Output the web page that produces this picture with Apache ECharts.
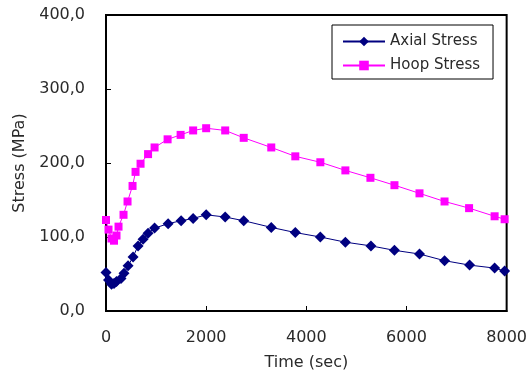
<!DOCTYPE html>
<html>
<head>
<meta charset="utf-8">
<script src="https://cdn.jsdelivr.net/npm/echarts@6/dist/echarts.min.js"></script>
<style>html,body{margin:0;padding:0;background:#fff;}#c{width:530px;height:381px;}</style>
</head>
<body>
<div id="c"></div>
<script>
var axialTime = [0, 50, 110, 160, 210, 300, 360, 440, 540, 640, 740, 840, 970, 1240, 1500, 1740, 2000, 2380, 2750, 3300, 3780, 4280, 4780, 5290, 5760, 6260, 6760, 7260, 7760, 7960];
var axialStress = [52, 42, 36, 37, 40, 44, 51, 61, 73, 88, 97, 105, 112, 118, 122, 125, 130, 127, 122, 113, 106, 100, 93, 88, 82, 77, 68, 62, 58, 54];
var hoopTime = [0, 50, 110, 160, 210, 250, 350, 430, 530, 590, 690, 840, 970, 1230, 1490, 1740, 2000, 2380, 2750, 3300, 3780, 4280, 4780, 5280, 5760, 6260, 6760, 7250, 7760, 7960];
var hoopStress = [123, 110, 98, 95, 102, 114, 130, 148, 169, 188, 199, 212, 221, 232, 238, 244, 247, 244, 234, 221, 209, 201, 190, 180, 170, 159, 148, 139, 128, 124];
var seriesNames = ['Axial Stress', 'Hoop Stress'];
var xTitle = 'Time (sec)';
var yTitle = 'Stress (MPa)';

function pairs(xs, ys) { return xs.map(function (x, i) { return [x, ys[i]]; }); }
var FONT = 'DejaVu Sans';
var TXT = '#2a2a2a';
var chart = echarts.init(document.getElementById('c'), null, { renderer: 'canvas' });
chart.setOption({
  backgroundColor: '#fff',
  animation: false,
  textStyle: { fontFamily: FONT, color: TXT },
  grid: { left: 106, right: 21, top: 15, bottom: 70, show: true, borderColor: '#000', borderWidth: 2, backgroundColor: 'transparent' },
  legend: {
    orient: 'vertical', left: 332, top: 25,
    data: seriesNames,
    itemWidth: 42, itemHeight: 12, itemGap: 9,
    padding: [9, 13, 6, 10],
    borderColor: '#000', borderWidth: 1, borderRadius: 0,
    backgroundColor: '#fff',
    textStyle: { fontFamily: FONT, fontSize: 15, color: TXT }
  },
  xAxis: {
    type: 'value', min: 0, max: 8000, interval: 2000,
    name: xTitle, nameLocation: 'middle', nameGap: 44,
    nameTextStyle: { fontFamily: FONT, fontSize: 16, color: TXT },
    axisLine: { show: true, onZero: false, lineStyle: { color: '#000', width: 2 } },
    axisTick: { show: true, inside: true, length: 5, lineStyle: { color: '#000', width: 1 } },
    axisLabel: { margin: 19, fontFamily: FONT, fontSize: 16, color: TXT,
      formatter: function (v) { return String(v); } },
    splitLine: { show: false }
  },
  yAxis: {
    type: 'value', min: 0, max: 400, interval: 100,
    name: yTitle, nameLocation: 'middle', nameGap: 78,
    nameTextStyle: { fontFamily: FONT, fontSize: 16, color: TXT },
    axisLine: { show: true, lineStyle: { color: '#000', width: 2 } },
    axisTick: { show: true, inside: true, length: 5, lineStyle: { color: '#000', width: 1 } },
    axisLabel: { margin: 21, fontFamily: FONT, fontSize: 16, color: TXT,
      formatter: function (v) { return v.toFixed(1).replace('.', ','); } },
    splitLine: { show: false }
  },
  series: [
    {
      name: seriesNames[0], type: 'line', data: pairs(axialTime, axialStress),
      symbol: 'diamond', symbolSize: 11, showAllSymbol: true,
      lineStyle: { color: '#000080', width: 1 },
      itemStyle: { color: '#000080' }
    },
    {
      name: seriesNames[1], type: 'line', data: pairs(hoopTime, hoopStress),
      symbol: 'rect', symbolSize: 8, showAllSymbol: true,
      lineStyle: { color: '#ff00ff', width: 1 },
      itemStyle: { color: '#ff00ff' }
    }
  ]
});
</script>
</body>
</html>
